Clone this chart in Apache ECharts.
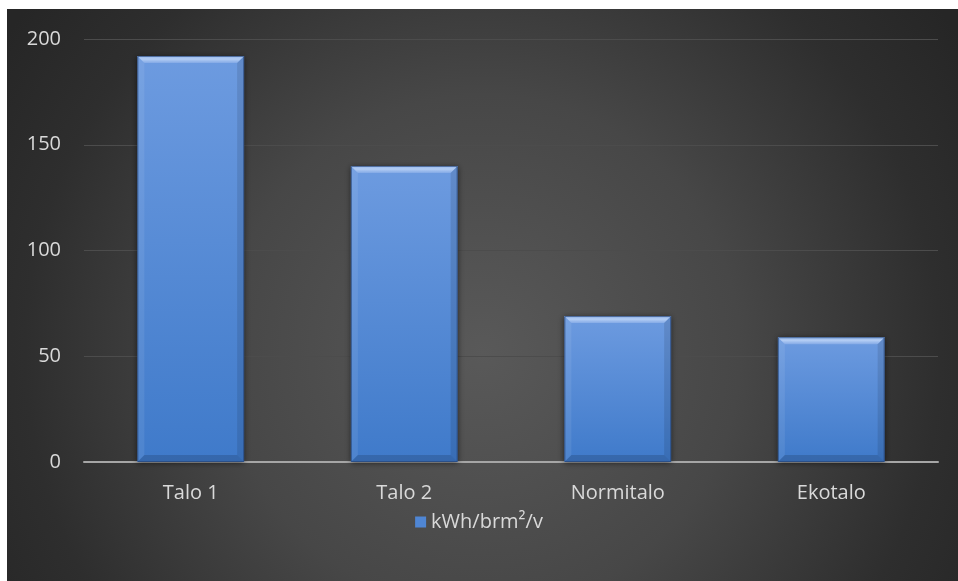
<!DOCTYPE html>
<html><head><meta charset="utf-8">
<script src="https://cdn.jsdelivr.net/npm/echarts@6/dist/echarts.min.js"></script>
<style>html,body{margin:0;padding:0;background:#fff}#c{width:958px;height:581px}</style>
</head><body><div id="c"></div>
<script>
const categories = ['Talo 1', 'Talo 2', 'Normitalo', 'Ekotalo'];
const values = [192, 140, 69, 59];
const seriesName = 'kWh/brm²/v';
const yTicks = { min: 0, max: 200, interval: 50 };

const chart = echarts.init(document.getElementById('c'), null, { renderer: 'canvas' });
const FONT = '"Open Sans"';

function renderBar(params, api) {
  const idx = api.value(0);
  const v = api.value(1);
  const top = api.coord([idx, v]);
  const base = api.coord([idx, 0]);
  const w = api.size([1, 0])[0] * 0.5;
  const x0 = top[0] - w / 2, x1 = x0 + w, y0 = top[1], y1 = base[1];
  const h = y1 - y0;
  const b = 7;
  return {
    type: 'group',
    children: [
      { type: 'rect', shape: { x: x0, y: y0, width: w, height: h },
        style: { fill: new echarts.graphic.LinearGradient(0, 0, 0, 1, [
          { offset: 0, color: '#6d9be0' }, { offset: 1, color: '#3f7aca' }]),
          shadowBlur: 6, shadowColor: 'rgba(0,0,0,0.55)', shadowOffsetY: 1 } },
      { type: 'polygon', shape: { points: [[x0, y0], [x1, y0], [x1 - b, y0 + b], [x0 + b, y0 + b]] },
        style: { fill: new echarts.graphic.LinearGradient(0, 0, 0, 1, [
          { offset: 0, color: '#94b7ec' }, { offset: 0.45, color: '#b3cdf4' }, { offset: 1, color: '#84aae6' }]) } },
      { type: 'polygon', shape: { points: [[x0, y0], [x0 + b, y0 + b], [x0 + b, y1 - b], [x0, y1]] },
        style: { fill: 'rgba(255,255,255,0.08)' } },
      { type: 'polygon', shape: { points: [[x1, y0], [x1 - b, y0 + b], [x1 - b, y1 - b], [x1, y1]] },
        style: { fill: 'rgba(0,0,0,0.10)' } },
      { type: 'polygon', shape: { points: [[x0, y1], [x0 + b, y1 - b], [x1 - b, y1 - b], [x1, y1]] },
        style: { fill: 'rgba(0,0,0,0.15)' } },
      { type: 'rect', shape: { x: x0 + 0.5, y: y0 + 0.5, width: w - 1, height: h - 1 },
        style: { fill: null, stroke: 'rgba(40,70,120,0.7)', lineWidth: 1 } }
    ]
  };
}

const option = {
  backgroundColor: '#ffffff',
  animation: false,
  graphic: [{
    type: 'rect', left: 7, top: 9, z: -10, silent: true,
    shape: { width: 951, height: 572 },
    style: { fill: new echarts.graphic.RadialGradient(0.5, 0.6, 1.0, [
      { offset: 0, color: '#595959' },
      { offset: 0.45, color: '#474747' },
      { offset: 0.8, color: '#2e2e2e' },
      { offset: 1, color: '#262626' }]) }
  }],
  grid: { left: 84, right: 20, top: 39, bottom: 119 },
  legend: {
    data: [{ name: seriesName, icon: 'rect' }],
    bottom: 44, left: 'center',
    itemWidth: 11, itemHeight: 11, itemGap: 3,
    textStyle: { color: '#d9d9d9', fontSize: 20, fontFamily: FONT }
  },
  xAxis: {
    type: 'category', data: categories,
    axisLine: { lineStyle: { color: '#a6a6a6', width: 2 } },
    axisTick: { show: false },
    axisLabel: { color: '#d9d9d9', fontSize: 20, fontFamily: FONT, margin: 21 }
  },
  yAxis: {
    type: 'value', min: yTicks.min, max: yTicks.max, interval: yTicks.interval,
    axisLine: { show: false }, axisTick: { show: false },
    splitLine: { lineStyle: { color: '#4c4c4c', width: 1 } },
    axisLabel: { color: '#d9d9d9', fontSize: 20, fontFamily: FONT, margin: 23 }
  },
  series: [{
    name: seriesName, type: 'custom',
    itemStyle: { color: '#4f86d4' },
    renderItem: renderBar,
    encode: { x: 0, y: 1 },
    data: values.map((v, i) => [i, v])
  }]
};
chart.setOption(option);
</script></body></html>
